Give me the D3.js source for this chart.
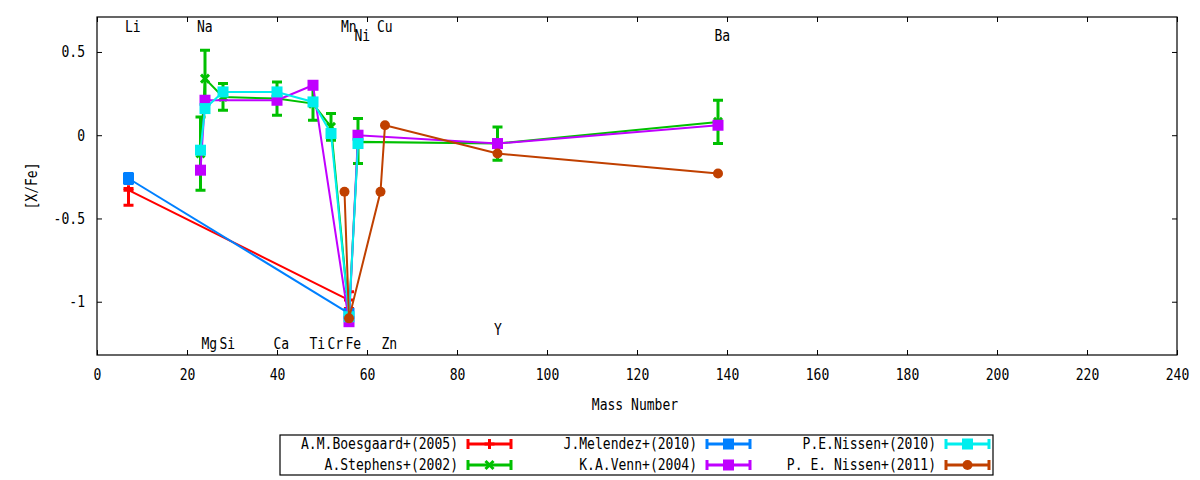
<!DOCTYPE html>
<html>
<head>
<meta charset="utf-8">
<script src="https://cdn.jsdelivr.net/npm/d3@7"></script>
<style>
  body { margin: 0; background: #fff; }
  svg { font-family: "DejaVu Sans Mono", monospace; font-size: 15px; }
</style>
</head>
<body>
<svg width="1200" height="480"></svg>
<script>
// element positions (mass number) and where their names sit, in [X/Fe] units
const elements = ['Li', 'Na', 'Mg', 'Si', 'Ca', 'Ti', 'Cr', 'Mn', 'Fe', 'Ni', 'Cu', 'Zn', 'Y', 'Ba'];
const masses = [7, 23, 24, 28, 40, 48, 52, 55, 56, 58, 63, 64, 89, 138];
const labelLevels = [0.65, 0.65, -1.25, -1.25, -1.25, -1.25, -1.25, 0.65, -1.25, 0.6, 0.65, -1.25, -1.17, 0.6];

const xTicks = [0, 20, 40, 60, 80, 100, 120, 140, 160, 180, 200, 220, 240];
const yTicks = [0.5, 0, -0.5, -1];

// one set of arrays per survey: element, value, lower and upper error ends
const boesgaardEl = ['Li', 'Fe'];
const boesgaardVal = [-0.33, -0.99];
const boesgaardLo = [-0.42, -1.04];
const boesgaardHi = [-0.32, -0.94];

const stephensEl = ['Na', 'Mg', 'Si', 'Ca', 'Ti', 'Cr', 'Fe', 'Ni', 'Y', 'Ba'];
const stephensVal = [-0.11, 0.34, 0.23, 0.22, 0.19, 0.05, -1.08, -0.04, -0.05, 0.08];
const stephensLo = [-0.33, 0.17, 0.15, 0.12, 0.09, -0.03, -1.1, -0.17, -0.15, -0.05];
const stephensHi = [0.11, 0.51, 0.31, 0.32, 0.28, 0.13, -1.06, 0.1, 0.05, 0.21];

const melendezEl = ['Li', 'Fe'];
const melendezVal = [-0.26, -1.07];
const melendezLo = [-0.29, -1.08];
const melendezHi = [-0.23, -1.06];

const vennEl = ['Na', 'Mg', 'Ca', 'Ti', 'Fe', 'Ni', 'Y', 'Ba'];
const vennVal = [-0.21, 0.21, 0.21, 0.3, -1.12, 0.0, -0.05, 0.06];

const nissen10El = ['Na', 'Mg', 'Si', 'Ca', 'Ti', 'Cr', 'Fe', 'Ni'];
const nissen10Val = [-0.09, 0.16, 0.26, 0.26, 0.2, 0.01, -1.09, -0.05];

const nissen11El = ['Mn', 'Fe', 'Cu', 'Zn', 'Y', 'Ba'];
const nissen11Val = [-0.34, -1.1, -0.34, 0.06, -0.11, -0.23];

const width = 1200;
const height = 480;
const plotLeft = 97, plotRight = 1177, plotTop = 17, plotBottom = 355;
const charWidth = 7.85;

const massOf = (el) => masses[elements.indexOf(el)];

function makeSeries(name, color, shape, els, vals, lo, hi) {
    return {
        name, color, shape,
        points: els.map((el, i) => ({
            x: massOf(el),
            y: vals[i],
            lo: lo ? lo[i] : null,
            hi: hi ? hi[i] : null
        }))
    };
}

const series = [
    makeSeries('A.M.Boesgaard+(2005)', '#ff0000', 'plus', boesgaardEl, boesgaardVal, boesgaardLo, boesgaardHi),
    makeSeries('A.Stephens+(2002)', '#00c000', 'cross', stephensEl, stephensVal, stephensLo, stephensHi),
    makeSeries('J.Melendez+(2010)', '#0080ff', 'square', melendezEl, melendezVal, melendezLo, melendezHi),
    makeSeries('K.A.Venn+(2004)', '#c000ff', 'square', vennEl, vennVal),
    makeSeries('P.E.Nissen+(2010)', '#00eeee', 'square', nissen10El, nissen10Val),
    makeSeries('P. E. Nissen+(2011)', '#c04000', 'circle', nissen11El, nissen11Val)
];

const xScale = d3.scaleLinear()
    .domain([0, 240])
    .range([plotLeft, plotRight]);

const yScale = d3.scaleLinear()
    .domain([-1.32, 0.71])
    .range([plotBottom, plotTop]);

const svg = d3.select('svg');

svg.append('rect')
    .attr('width', width)
    .attr('height', height)
    .attr('fill', '#fff');

// axes, ticks pointing inward, mirrored on top and right
svg.append('g')
    .attr('transform', `translate(0, ${plotBottom})`)
    .call(d3.axisBottom(xScale).tickValues(xTicks).tickFormat(String)
        .tickSizeInner(-5).tickSizeOuter(0).tickPadding(14));

svg.append('g')
    .attr('transform', `translate(0, ${plotTop})`)
    .call(d3.axisTop(xScale).tickValues(xTicks).tickFormat('')
        .tickSizeInner(-5).tickSizeOuter(0));

svg.append('g')
    .attr('transform', `translate(${plotLeft}, 0)`)
    .call(d3.axisLeft(yScale).tickValues(yTicks).tickFormat(String)
        .tickSizeInner(-5).tickSizeOuter(0).tickPadding(12));

svg.append('g')
    .attr('transform', `translate(${plotRight}, 0)`)
    .call(d3.axisRight(yScale).tickValues(yTicks).tickFormat('')
        .tickSizeInner(-5).tickSizeOuter(0));

svg.selectAll('.domain').remove();
svg.selectAll('.tick line').attr('stroke', '#000');
svg.selectAll('.tick text')
    .attr('fill', '#000')
    .style('font-size', '15px')
    .style('font-family', '"DejaVu Sans Mono", monospace');

svg.append('rect')
    .attr('x', plotLeft)
    .attr('y', plotTop)
    .attr('width', plotRight - plotLeft)
    .attr('height', plotBottom - plotTop)
    .attr('fill', 'none')
    .attr('stroke', '#000')
    .attr('stroke-width', 1.2);

// element names
svg.append('g')
    .selectAll('text')
    .data(elements)
    .enter()
    .append('text')
        .attr('x', (d, i) => xScale(masses[i]))
        .attr('y', (d, i) => yScale(labelLevels[i]))
        .attr('dx', -3.5)
        .attr('dy', '0.35em')
        .text((d) => d);

function drawMarker(g, shape, color) {
    if (shape === 'square') {
        g.append('rect')
            .attr('x', -5.5).attr('y', -5.5)
            .attr('width', 11).attr('height', 11)
            .attr('fill', color);
    } else if (shape === 'circle') {
        g.append('circle')
            .attr('r', 5)
            .attr('fill', color);
    } else if (shape === 'plus') {
        g.append('path')
            .attr('d', 'M-5,0H5M0,-5V5')
            .attr('stroke', color)
            .attr('stroke-width', 3);
    } else {
        g.append('path')
            .attr('d', 'M-4,-4L4,4M-4,4L4,-4')
            .attr('stroke', color)
            .attr('stroke-width', 3);
    }
}

const line = d3.line()
    .x((d) => xScale(d.x))
    .y((d) => yScale(d.y));

series.forEach((s) => {
    const g = svg.append('g');

    g.append('path')
        .datum(s.points)
        .attr('d', line)
        .attr('fill', 'none')
        .attr('stroke', s.color)
        .attr('stroke-width', 2);

    const bars = s.points.filter((p) => p.lo !== null);
    g.selectAll('.bar')
        .data(bars)
        .enter()
        .append('path')
            .attr('class', 'bar')
            .attr('d', (p) => {
                const x = xScale(p.x), y0 = yScale(p.lo), y1 = yScale(p.hi);
                return `M${x},${y0}V${y1}M${x - 5},${y0}H${x + 5}M${x - 5},${y1}H${x + 5}`;
            })
            .attr('fill', 'none')
            .attr('stroke', s.color)
            .attr('stroke-width', 3);

    g.selectAll('.pt')
        .data(s.points)
        .enter()
        .append('g')
            .attr('class', 'pt')
            .attr('transform', (p) => `translate(${xScale(p.x)}, ${yScale(p.y)})`)
            .each(function () { drawMarker(d3.select(this), s.shape, s.color); });
});

// axis titles
svg.append('text')
    .attr('x', 635)
    .attr('y', 405)
    .attr('dy', '0.35em')
    .style('text-anchor', 'middle')
    .text('Mass Number');

svg.append('text')
    .attr('transform', `translate(32, ${(plotTop + plotBottom) / 2}) rotate(-90)`)
    .attr('dy', '0.35em')
    .style('text-anchor', 'middle')
    .text('[X/Fe]');

// legend: three columns of two rows, filled column-wise
const legend = svg.append('g');
legend.append('rect')
    .attr('x', 280).attr('y', 435)
    .attr('width', 713).attr('height', 40)
    .attr('fill', '#fff')
    .attr('stroke', '#000')
    .attr('stroke-width', 1.2);

series.forEach((s, i) => {
    const col = Math.floor(i / 2);
    const row = i % 2;
    const tx = 458 + col * 239;
    const ty = 444 + row * 21;
    const item = legend.append('g');
    item.append('text')
        .attr('x', tx)
        .attr('y', ty)
        .attr('dy', '0.35em')
        .style('text-anchor', 'end')
        .text(s.name);
    const x0 = tx + 10, x1 = tx + 53;
    item.append('path')
        .attr('d', `M${x0},${ty}H${x1}M${x0},${ty - 5}V${ty + 5}M${x1},${ty - 5}V${ty + 5}`)
        .attr('stroke', s.color)
        .attr('stroke-width', 3)
        .attr('fill', 'none');
    const m = item.append('g').attr('transform', `translate(${(x0 + x1) / 2}, ${ty})`);
    drawMarker(m, s.shape, s.color);
});

// the terminal font is a tall, narrow monospace: squeeze each string to its advance width
svg.selectAll('text')
    .filter(function () { return this.textContent.length > 0; })
    .attr('textLength', function () { return this.textContent.length * charWidth; })
    .attr('lengthAdjust', 'spacingAndGlyphs');
</script>
</body>
</html>
